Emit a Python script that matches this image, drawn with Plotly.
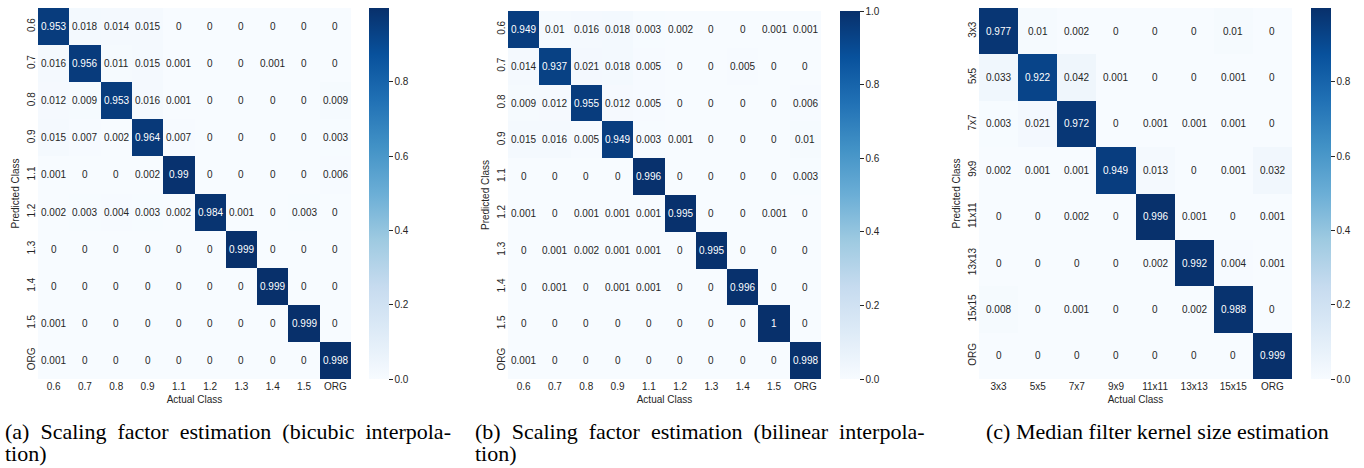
import plotly.graph_objects as go

# ---------------- data ----------------
labels_a = ["0.6", "0.7", "0.8", "0.9", "1.1", "1.2", "1.3", "1.4", "1.5", "ORG"]
values_a = [
    [0.953, 0.018, 0.014, 0.015, 0, 0, 0, 0, 0, 0],
    [0.016, 0.956, 0.011, 0.015, 0.001, 0, 0, 0.001, 0, 0],
    [0.012, 0.009, 0.953, 0.016, 0.001, 0, 0, 0, 0, 0.009],
    [0.015, 0.007, 0.002, 0.964, 0.007, 0, 0, 0, 0, 0.003],
    [0.001, 0, 0, 0.002, 0.99, 0, 0, 0, 0, 0.006],
    [0.002, 0.003, 0.004, 0.003, 0.002, 0.984, 0.001, 0, 0.003, 0],
    [0, 0, 0, 0, 0, 0, 0.999, 0, 0, 0],
    [0, 0, 0, 0, 0, 0, 0, 0.999, 0, 0],
    [0.001, 0, 0, 0, 0, 0, 0, 0, 0.999, 0],
    [0.001, 0, 0, 0, 0, 0, 0, 0, 0, 0.998],
]

labels_b = ["0.6", "0.7", "0.8", "0.9", "1.1", "1.2", "1.3", "1.4", "1.5", "ORG"]
values_b = [
    [0.949, 0.01, 0.016, 0.018, 0.003, 0.002, 0, 0, 0.001, 0.001],
    [0.014, 0.937, 0.021, 0.018, 0.005, 0, 0, 0.005, 0, 0],
    [0.009, 0.012, 0.955, 0.012, 0.005, 0, 0, 0, 0, 0.006],
    [0.015, 0.016, 0.005, 0.949, 0.003, 0.001, 0, 0, 0, 0.01],
    [0, 0, 0, 0, 0.996, 0, 0, 0, 0, 0.003],
    [0.001, 0, 0.001, 0.001, 0.001, 0.995, 0, 0, 0.001, 0],
    [0, 0.001, 0.002, 0.001, 0.001, 0, 0.995, 0, 0, 0],
    [0, 0.001, 0, 0.001, 0.001, 0, 0, 0.996, 0, 0],
    [0, 0, 0, 0, 0, 0, 0, 0, 1, 0],
    [0.001, 0, 0, 0, 0, 0, 0, 0, 0, 0.998],
]

labels_c = ["3x3", "5x5", "7x7", "9x9", "11x11", "13x13", "15x15", "ORG"]
values_c = [
    [0.977, 0.01, 0.002, 0, 0, 0, 0.01, 0],
    [0.033, 0.922, 0.042, 0.001, 0, 0, 0.001, 0],
    [0.003, 0.021, 0.972, 0, 0.001, 0.001, 0.001, 0],
    [0.002, 0.001, 0.001, 0.949, 0.013, 0, 0.001, 0.032],
    [0, 0, 0.002, 0, 0.996, 0.001, 0, 0.001],
    [0, 0, 0, 0, 0.002, 0.992, 0.004, 0.001],
    [0.008, 0, 0.001, 0, 0, 0.002, 0.988, 0],
    [0, 0, 0, 0, 0, 0, 0, 0.999],
]

captions = [
    ["(a) Scaling factor estimation (bicubic interpola-", "tion)"],
    ["(b) Scaling factor estimation (bilinear interpola-", "tion)"],
    ["(c) Median filter kernel size estimation"],
]
caption_justify = [True, True, False]

# ---------------- style ----------------
W, H = 1364, 468
blues = ["#f7fbff", "#deebf7", "#c6dbef", "#9ecae1", "#6baed6",
         "#4292c6", "#2171b5", "#08519c", "#08306b"]
scale = [[i / (len(blues) - 1), c] for i, c in enumerate(blues)]
TXT = "#262626"
SANS = "Liberation Sans, Arial, sans-serif"
SERIF = "Liberation Serif, Times New Roman, serif"

# panel geometry in pixels: (heat_left, heat_right, top, bottom, cbar_left)
panels = [
    (38, 351, 8, 379, 369),
    (508, 821, 11, 379, 840),
    (979, 1292, 8, 379, 1311),
]
caption_pos = [(5, 431), (475, 431), (986, 431)]

fig = go.Figure()
datasets = [(labels_a, values_a), (labels_b, values_b), (labels_c, values_c)]

for k, ((labels, vals), (l, r, t, b, cbl)) in enumerate(zip(datasets, panels)):
    xa = "x" if k == 0 else f"x{k+1}"
    ya = "y" if k == 0 else f"y{k+1}"
    vmax = max(max(row) for row in vals)
    vmin = min(min(row) for row in vals)
    fig.add_trace(go.Heatmap(
        z=vals, x=labels, y=labels, xaxis=xa, yaxis=ya,
        colorscale=scale, zmin=vmin, zmax=vmax, xgap=0, ygap=0,
        hoverinfo="skip",
        colorbar=dict(
            x=cbl / W, xanchor="left", xref="paper", xpad=0, ypad=0,
            y=1 - t / H, yanchor="top",
            lenmode="pixels", len=b - t,
            thickness=20, thicknessmode="pixels",
            outlinewidth=0,
            ticks="outside", ticklen=4, tickwidth=1, tickcolor=TXT,
            tick0=0, dtick=0.2, tickformat=".1f",
            tickfont=dict(family=SANS, size=10, color=TXT),
        ),
    ))
    for i in range(len(labels)):
        for j in range(len(labels)):
            v = vals[i][j]
            fig.add_annotation(
                x=j, y=i, xref=xa, yref=ya, text=f"{v:g}",
                showarrow=False,
                font=dict(family=SANS, size=10,
                          color="white" if v > 0.5 else TXT),
            )
    axkey = "xaxis" if k == 0 else f"xaxis{k+1}"
    aykey = "yaxis" if k == 0 else f"yaxis{k+1}"
    fig.update_layout(**{
        axkey: dict(
            domain=[l / W, r / W], anchor=ya, type="category",
            showgrid=False, zeroline=False, ticks="", showline=False,
            tickfont=dict(family=SANS, size=10, color=TXT),
            title=dict(text="Actual Class", standoff=4,
                       font=dict(family=SANS, size=10, color=TXT)),
        ),
        aykey: dict(
            domain=[1 - b / H, 1 - t / H], anchor=xa, type="category",
            autorange="reversed", showgrid=False, zeroline=False,
            ticks="", showline=False, tickangle=-90,
            tickfont=dict(family=SANS, size=10, color=TXT),
            title=dict(text="Predicted Class", standoff=4,
                       font=dict(family=SANS, size=10, color=TXT)),
        ),
    })

gap = "&nbsp;" * 2
for cap, just, (cx, cy) in zip(captions, caption_justify, caption_pos):
    for n, line in enumerate(cap):
        txt = line.replace(" ", gap) if (just and n < len(cap) - 1) else line
        fig.add_annotation(
            x=cx / W, y=1 - (cy + n * 22) / H, xref="paper", yref="paper",
            xanchor="left", yanchor="middle", text=txt, showarrow=False,
            borderpad=0, borderwidth=0,
            font=dict(family=SERIF, size=22, color="black"),
        )

fig.update_layout(
    width=W, height=H,
    margin=dict(l=0, r=0, t=0, b=0),
    paper_bgcolor="white", plot_bgcolor="white",
    showlegend=False,
)

fig.write_html("out.html", config={"displayModeBar": False},
               post_script="document.body.style.margin='0';")
